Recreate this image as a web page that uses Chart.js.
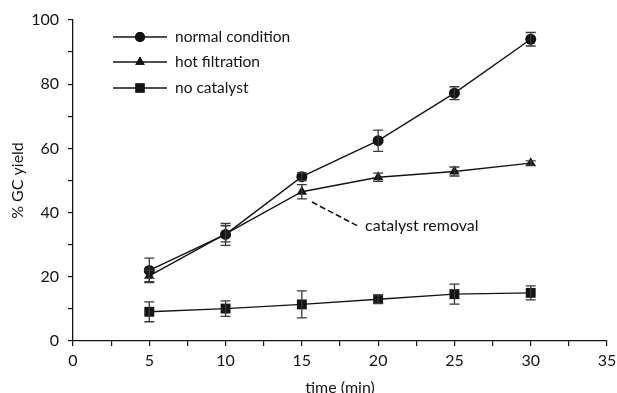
<!DOCTYPE html>
<html>
<head>
<meta charset="utf-8">
<script src="https://cdn.jsdelivr.net/npm/chart.js@4/dist/chart.umd.min.js"></script>
<style>
  html, body { margin: 0; padding: 0; background: #ffffff; }
  #wrap { width: 617px; height: 393px; position: relative; }
</style>
</head>
<body>
<div id="wrap"><canvas id="c" width="617" height="393"></canvas></div>
<script>
// ---- data ----
const times = [5, 10, 15, 20, 25, 30];
const seriesNames = ['normal condition', 'hot filtration', 'no catalyst'];
const normalYield = [22.0, 33.2, 51.2, 62.4, 77.2, 94.0];
const normalErr = [3.8, 3.4, 1.2, 3.3, 2.0, 2.1];
const hotYield = [20.3, 33.4, 46.5, 51.0, 52.8, 55.4];
const hotErr = [1.8, 2.5, 2.2, 1.3, 1.4, 0.7];
const noCatYield = [9.1, 10.1, 11.4, 13.0, 14.6, 15.0];
const noCatErr = [3.1, 2.4, 4.2, 1.3, 3.1, 2.2];
const xTickLabels = [0, 5, 10, 15, 20, 25, 30, 35];
const yTickLabels = [0, 20, 40, 60, 80, 100];
const annotationText = 'catalyst removal';
const annotationFrom = [15.66, 43.3];
const annotationTo = [18.68, 35.8];

const FONT = 'Lato, "Open Sans", sans-serif';
const INK = '#141414';

function pts(ys) { return times.map((t, i) => ({ x: t, y: ys[i] })); }

const errs = [normalErr, hotErr, noCatErr];
const styles = [
  { pointStyle: 'circle', radius: 5.5 },
  { pointStyle: 'triangle', radius: 6 },
  { pointStyle: 'rect', radius: 7 }
];

const errorBarPlugin = {
  id: 'errorBars',
  afterDatasetsDraw(chart) {
    const ctx = chart.ctx;
    const xs = chart.scales.x, ys = chart.scales.y;
    ctx.save();
    ctx.strokeStyle = '#3a3a3a';
    ctx.lineWidth = 1.3;
    chart.data.datasets.forEach((ds, di) => {
      ds.data.forEach((p, i) => {
        const e = errs[di][i];
        const px = xs.getPixelForValue(p.x);
        const top = ys.getPixelForValue(p.y + e);
        const bot = ys.getPixelForValue(p.y - e);
        ctx.beginPath();
        ctx.moveTo(px, top); ctx.lineTo(px, bot);
        ctx.moveTo(px - 5, top); ctx.lineTo(px + 5, top);
        ctx.moveTo(px - 5, bot); ctx.lineTo(px + 5, bot);
        ctx.stroke();
      });
    });
    ctx.restore();
  }
};

const annotationPlugin = {
  id: 'annot',
  afterDraw(chart) {
    const ctx = chart.ctx;
    const xs = chart.scales.x, ys = chart.scales.y;
    const x1 = xs.getPixelForValue(annotationFrom[0]), y1 = ys.getPixelForValue(annotationFrom[1]);
    const x2 = xs.getPixelForValue(annotationTo[0]), y2 = ys.getPixelForValue(annotationTo[1]);
    ctx.save();
    ctx.strokeStyle = INK;
    ctx.lineWidth = 1.6;
    ctx.setLineDash([6, 3]);
    ctx.beginPath(); ctx.moveTo(x1, y1); ctx.lineTo(x2, y2); ctx.stroke();
    ctx.setLineDash([]);
    ctx.fillStyle = INK;
    ctx.font = '16px ' + FONT;
    ctx.textAlign = 'left';
    ctx.textBaseline = 'middle';
    ctx.fillText(annotationText, x2 + 7, y2);
    ctx.restore();
  }
};

const legendPlugin = {
  id: 'insideLegend',
  afterDraw(chart) {
    const ctx = chart.ctx;
    const left = 113, lineLen = 54, rowY = [37, 62, 88];
    ctx.save();
    chart.data.datasets.forEach((ds, i) => {
      const y = rowY[i];
      ctx.strokeStyle = INK; ctx.lineWidth = 1.4;
      ctx.beginPath(); ctx.moveTo(left, y); ctx.lineTo(left + lineLen, y); ctx.stroke();
      ctx.fillStyle = INK;
      Chart.helpers.drawPoint(ctx, { pointStyle: styles[i].pointStyle, radius: styles[i].radius - 0.5, rotation: 0, borderWidth: 0 }, left + lineLen / 2, y);
      ctx.fill();
      ctx.fillStyle = INK;
      ctx.font = '15.5px ' + FONT;
      ctx.textAlign = 'left';
      ctx.textBaseline = 'middle';
      ctx.fillText(ds.label, left + lineLen + 8, y);
    });
    ctx.restore();
  }
};

const datasets = [normalYield, hotYield, noCatYield].map((ys, i) => ({
  label: seriesNames[i],
  data: pts(ys),
  borderColor: INK,
  backgroundColor: INK,
  borderWidth: 1.4,
  pointStyle: styles[i].pointStyle,
  pointRadius: styles[i].radius,
  pointBorderWidth: 0,
  pointBackgroundColor: INK,
  showLine: true,
  tension: 0
}));

new Chart(document.getElementById('c'), {
  type: 'scatter',
  data: { datasets },
  options: {
    responsive: false,
    animation: false,
    devicePixelRatio: 1,
    layout: { padding: { top: 20, right: 10, left: 0, bottom: 0 } },
    plugins: { legend: { display: false }, tooltip: { enabled: false } },
    scales: {
      x: {
        type: 'linear', min: 0, max: 35,
        afterFit(s) { s.height = 52; s.paddingRight = 0; s.paddingLeft = 0; },
        ticks: {
          stepSize: 2.5, autoSkip: false, maxRotation: 0,
          color: INK, font: { family: FONT, size: 16 }, padding: 5,
          callback(v) { return xTickLabels.includes(v) ? String(v) : ''; }
        },
        grid: { display: true, drawOnChartArea: false, drawTicks: true, tickLength: 5, color: INK, lineWidth: 1.2 },
        border: { display: true, color: INK, width: 1.3 },
        title: { display: true, text: 'time (min)', color: INK, font: { family: FONT, size: 16, lineHeight: 1 }, padding: { top: 0, bottom: -3 } }
      },
      y: {
        type: 'linear', min: 0, max: 100,
        afterFit(s) { s.width = 73; },
        ticks: {
          stepSize: 10, autoSkip: false,
          color: INK, font: { family: FONT, size: 16 }, padding: 9,
          callback(v) { return yTickLabels.includes(v) ? String(v) : ''; }
        },
        grid: { display: true, drawOnChartArea: false, drawTicks: true, tickLength: 5, color: INK, lineWidth: 1.2 },
        border: { display: true, color: INK, width: 1.3 },
        title: { display: true, text: '% GC yield', color: INK, font: { family: FONT, size: 16 }, padding: { top: 8, bottom: 0 } }
      }
    }
  },
  plugins: [errorBarPlugin, annotationPlugin, legendPlugin]
});
</script>
</body>
</html>
